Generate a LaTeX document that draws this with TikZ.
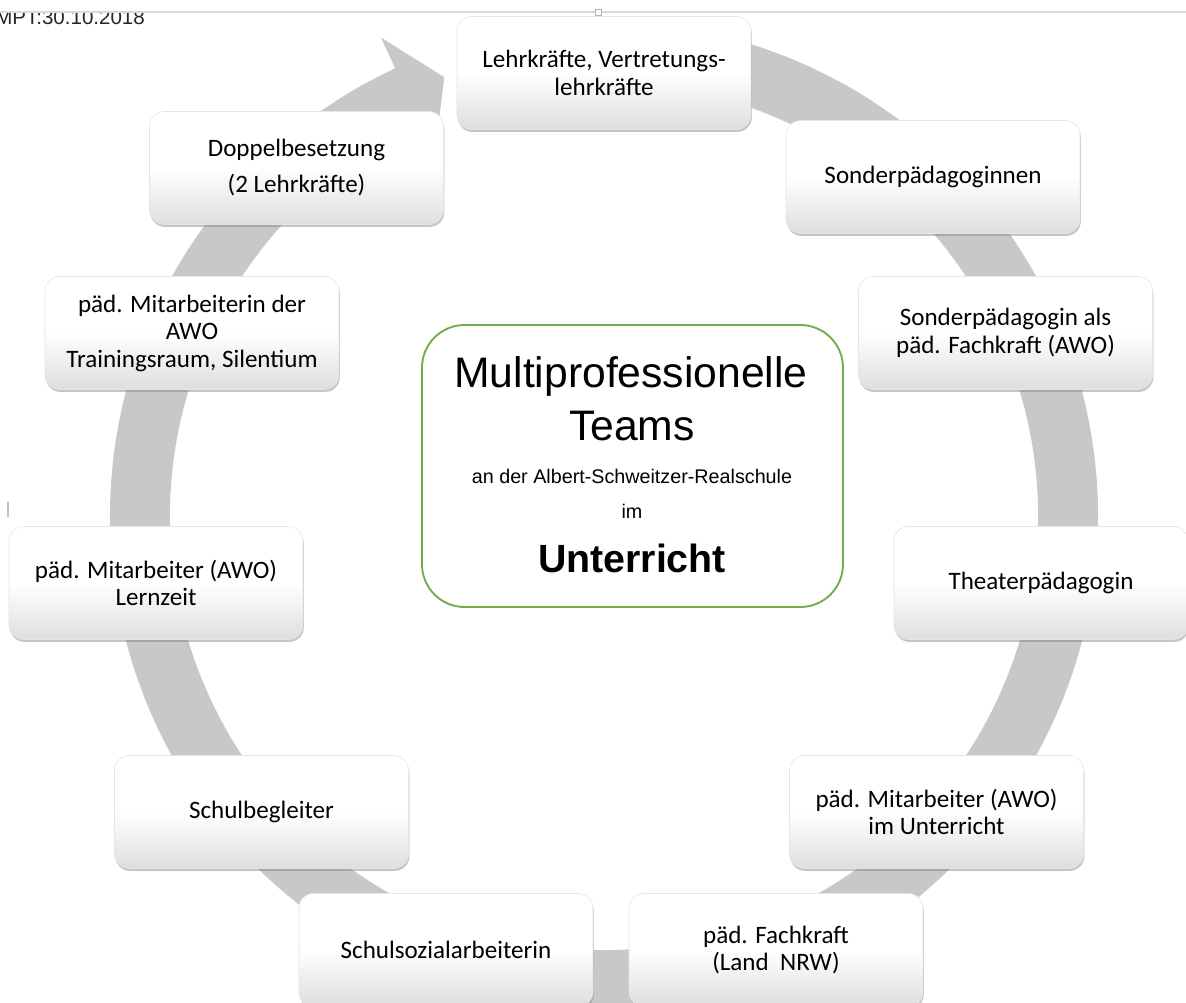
\documentclass[tikz,border=0pt]{standalone}
\usepackage{fontspec}
\newfontfamily\calib{Carlito}
\newfontfamily\arial{Liberation Sans}
\usetikzlibrary{calc, shadows}
\definecolor{ringgrey}{RGB}{200,200,200}
\definecolor{teamgreen}{RGB}{112,173,71}

\begin{document}
\begin{tikzpicture}[x=0.75pt, y=-0.75pt,
    box/.style={rounded corners=11pt, minimum width=220.5pt, minimum height=84.75pt, align=center,
        font=\calib\fontsize{18.8}{20.6}\selectfont, draw=black!10,
        top color=white, bottom color=black!13, middle color=white,
        drop shadow={shadow xshift=0.6pt, shadow yshift=-1.8pt, opacity=0.45}},
    team/.style={rounded corners=32pt, minimum width=315.75pt, minimum height=211.5pt,
        draw=teamgreen, line width=1.4pt, fill=white}]

        \useasboundingbox (0,0) rectangle (1186,1003);
        \clip (0,0) rectangle (1186,1003);
        \fill[white] (0,0) rectangle (1186,1003);

        % ring with arrow head
        \coordinate (c) at (604,516);
        \fill[ringgrey] ($(c)+(-100:494)$) arc[start angle=-100, end angle=245, radius=494]
            -- ($(c)+(245:528)$) -- ($(c)+(250:467)$) -- ($(c)+(245:400)$)
            -- ($(c)+(245:434)$) arc[start angle=245, end angle=-100, radius=434] -- cycle;

        % top line and date
        \draw[black!15, line width=1.2pt] (0,12) -- (1186,12);
        \draw[black!30, fill=white, line width=0.5pt] (595,9) rectangle (601,15);
        \draw[black!25, line width=0.8pt] (8,502) -- (8,517);
        \begin{scope}
        	\clip (-10,13) rectangle (300,40);
        	\node[anchor=base west, inner sep=0pt, font=\arial\fontsize{15.4}{18}\selectfont, black!85] (mpt) at (-5,25) {MPT:30.10.2018};
        \end{scope}

        % centre
        \node[team] (tm) at (632.5,466) {};
        \node[anchor=base, font=\arial\fontsize{32}{36}\selectfont] (multi) at (631,387) {Multiprofessionelle};
        \node[anchor=base, font=\arial\fontsize{32}{36}\selectfont] (teams) at (632,440) {Teams};
        \node[anchor=base, font=\arial\fontsize{14.8}{17}\selectfont] (asr) at (632,483) {an der Albert-Schweitzer-Realschule};
        \node[anchor=base, font=\arial\fontsize{14.8}{17}\selectfont] (im) at (632,518) {im};
        \node[anchor=base, font=\arial\bfseries\fontsize{29.5}{34}\selectfont] (unt) at (632,572) {Unterricht};

        % boxes round the ring
        \node[box] (lk) at (604,73) {Lehrkräfte, Vertretungs-\\lehrkräfte};
        \node[box] (sp) at (933,177) {Sonderpädagoginnen};
        \node[box] (spa) at (1005.5,333) {Sonderpädagogin als\\päd. Fachkraft (AWO)};
        \node[box] (tp) at (1041,583) {Theaterpädagogin};
        \node[box] (mau) at (936.5,812) {päd. Mitarbeiter (AWO)\\im Unterricht};
        \node[box] (fk) at (776,950) {päd. Fachkraft\\(Land~~NRW)};
        \node[box] (ssa) at (446,950) {Schulsozialarbeiterin};
        \node[box] (sb) at (261.5,812) {Schulbegleiter};
        \node[box] (mal) at (156,583) {päd. Mitarbeiter (AWO)\\Lernzeit};
        \node[box] (mat) at (192,333) {päd. Mitarbeiterin der\\AWO\\Trainingsraum, Silentium};
        \node[box] (db) at (296.5,168) {Doppelbesetzung\\[6.4pt](2 Lehrkräfte)};

\end{tikzpicture}
\end{document}
